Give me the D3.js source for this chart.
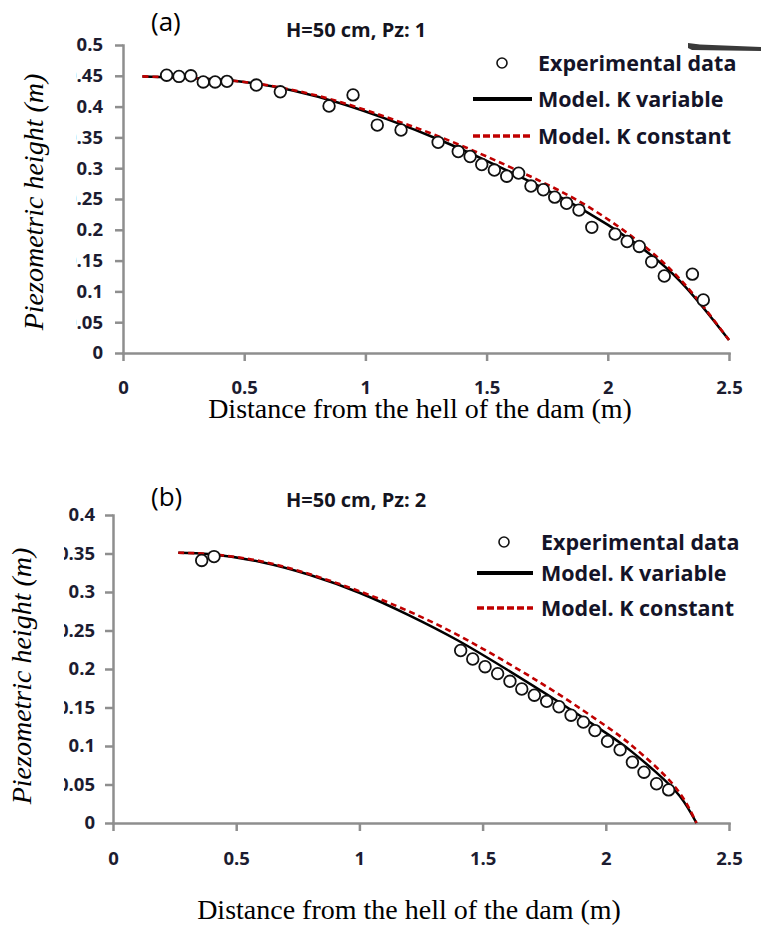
<!DOCTYPE html>
<html>
<head>
<meta charset="utf-8">
<script src="https://cdn.jsdelivr.net/npm/d3@7.9.0/dist/d3.min.js"></script>
<style>
  body { margin: 0; background: #fff; }
  svg { display: block; }
  .axis path, .axis line { stroke: #8e8e8e; stroke-width: 2.5; }
  .axis text { font-family: "Open Sans", sans-serif; font-weight: bold; font-size: 18.5px; fill: #1c1c30; }
  .panel-tag { font-family: "Open Sans", sans-serif; font-size: 26px; fill: #000; }
  .panel-title { font-family: "Open Sans", sans-serif; font-weight: bold; font-size: 20px; fill: #141420; }
  .legend text { font-family: "Open Sans", sans-serif; font-weight: bold; font-size: 21.5px; fill: #141428; }
  .ylabel { font-family: "Liberation Serif", "Times New Roman", serif; font-style: italic; font-size: 28px; fill: #000; }
  .xlabel { font-family: "Liberation Serif", "Times New Roman", serif; font-size: 28px; fill: #000; }
</style>
</head>
<body>
<script>
// shared x axis
const xTicks = [0, 0.5, 1, 1.5, 2, 2.5];
const xTickLabels = ['0', '0.5', '1', '1.5', '2', '2.5'];

// panel (a)
const yTicksA = [0, 0.05, 0.1, 0.15, 0.2, 0.25, 0.3, 0.35, 0.4, 0.45, 0.5];
const yTickLabelsA = ['0', '0.05', '0.1', '0.15', '0.2', '0.25', '0.3', '0.35', '0.4', '0.45', '0.5'];
const expA = [
  [0.18, 0.451], [0.231, 0.449], [0.28, 0.450], [0.331, 0.440], [0.38, 0.440],
  [0.429, 0.441], [0.55, 0.435], [0.649, 0.424], [0.85, 0.401], [0.949, 0.419],
  [1.049, 0.370], [1.147, 0.362], [1.30, 0.342], [1.383, 0.327], [1.432, 0.319],
  [1.48, 0.306], [1.532, 0.297], [1.583, 0.287], [1.632, 0.292], [1.683, 0.271],
  [1.734, 0.265], [1.781, 0.253], [1.83, 0.243], [1.881, 0.232], [1.934, 0.204],
  [2.03, 0.193], [2.08, 0.181], [2.13, 0.173], [2.181, 0.148], [2.233, 0.125],
  [2.349, 0.128], [2.394, 0.086]
];
const kVarA = [
  [0.08, 0.449], [0.3, 0.446], [0.5, 0.440], [0.7, 0.426], [0.9, 0.405],
  [1.1, 0.378], [1.3, 0.347], [1.5, 0.312], [1.7, 0.274], [1.9, 0.232],
  [2.1, 0.182], [2.3, 0.116], [2.5, 0.021]
];
const kConstA = [
  [0.08, 0.449], [0.3, 0.446], [0.5, 0.440], [0.7, 0.427], [0.9, 0.407],
  [1.1, 0.381], [1.3, 0.352], [1.5, 0.319], [1.7, 0.283], [1.9, 0.242],
  [2.1, 0.189], [2.3, 0.119], [2.5, 0.021]
];

// panel (b)
const yTicksB = [0, 0.05, 0.1, 0.15, 0.2, 0.25, 0.3, 0.35, 0.4];
const yTickLabelsB = ['0', '0.05', '0.1', '0.15', '0.2', '0.25', '0.3', '0.35', '0.4'];
const expB = [
  [0.36, 0.341], [0.41, 0.346],
  [1.411, 0.224], [1.46, 0.213], [1.51, 0.203], [1.561, 0.194], [1.611, 0.184],
  [1.659, 0.174], [1.71, 0.166], [1.76, 0.158], [1.81, 0.151], [1.859, 0.140],
  [1.909, 0.131], [1.956, 0.120], [2.007, 0.106], [2.058, 0.095], [2.108, 0.079],
  [2.155, 0.066], [2.206, 0.051], [2.255, 0.043]
];
const kVarB = [
  [0.265, 0.351], [0.4, 0.349], [0.6, 0.339], [0.8, 0.322], [1.0, 0.299],
  [1.2, 0.270], [1.4, 0.237], [1.6, 0.199], [1.8, 0.159], [2.0, 0.117],
  [2.1, 0.094], [2.2, 0.067], [2.3, 0.035], [2.368, 0.0]
];
const kConstB = [
  [0.265, 0.351], [0.4, 0.349], [0.6, 0.340], [0.8, 0.323], [1.0, 0.301],
  [1.2, 0.275], [1.4, 0.244], [1.6, 0.208], [1.8, 0.169], [2.0, 0.126],
  [2.1, 0.102], [2.2, 0.074], [2.3, 0.039], [2.368, 0.0]
];

const legendNames = ['Experimental data', 'Model. K variable', 'Model. K constant'];

const svg = d3.select('body').append('svg')
  .attr('width', 761)
  .attr('height', 925);

function drawPanel(o) {
  const x = d3.scaleLinear().domain([0, 2.5]).range([o.left, o.right]);
  const y = d3.scaleLinear().domain([0, o.yMax]).range([o.bottom, o.top]);
  const g = svg.append('g');

  // y axis, labels run off the left edge like in the source figure
  const yAxis = g.append('g')
    .attr('class', 'axis')
    .attr('transform', `translate(${o.left},0)`)
    .call(d3.axisLeft(y)
      .tickValues(o.yTicks)
      .tickFormat((d, i) => o.yLabels[i])
      .tickSize(8).tickSizeOuter(0).tickPadding(o.yPad));

  let topLabel = yAxis.selectAll('.tick text').filter((d) => d === o.yMax).node();
  let bb = topLabel.getBBox();
  let clipX = bb.x - o.clipExtra;
  svg.append('clipPath').attr('id', o.id + '-clip')
    .append('rect').attr('x', clipX).attr('y', -100).attr('width', 2000).attr('height', 2000);
  yAxis.attr('clip-path', `url(#${o.id}-clip)`);

  g.append('g')
    .attr('class', 'axis')
    .attr('transform', `translate(0,${o.bottom})`)
    .call(d3.axisBottom(x)
      .tickValues(xTicks)
      .tickFormat((d, i) => xTickLabels[i])
      .tickSize(8).tickSizeOuter(0).tickPadding(o.xPad));

  g.selectAll('.domain').attr('stroke-linecap', 'square');

  // model curves
  let line = d3.line()
    .x((d) => x(d[0]))
    .y((d) => y(d[1]))
    .curve(d3.curveNatural);

  g.append('path').datum(o.kVar)
    .attr('d', line).attr('fill', 'none')
    .attr('stroke', '#000').attr('stroke-width', 2.5);
  g.append('path').datum(o.kConst)
    .attr('d', line).attr('fill', 'none')
    .attr('stroke', '#c00000').attr('stroke-width', 2.6)
    .attr('stroke-dasharray', '6,4');

  g.selectAll('circle.exp').data(o.exp).join('circle')
    .attr('class', 'exp')
    .attr('cx', (d) => x(d[0]))
    .attr('cy', (d) => y(d[1]))
    .attr('r', 5.8)
    .attr('fill', '#fff')
    .attr('stroke', '#111')
    .attr('stroke-width', 1.8);

  // text
  g.append('text').attr('class', 'panel-tag')
    .attr('x', 151).attr('y', o.tagY).text(o.tag);
  g.append('text').attr('class', 'panel-title')
    .attr('x', 286).attr('y', o.titleY).text(o.title);

  g.append('text').attr('class', 'ylabel')
    .attr('transform', `translate(${o.ylabX},${o.ylabY}) rotate(-90)`)
    .attr('text-anchor', 'middle')
    .text('Piezometric height (m)');
  g.append('text').attr('class', 'xlabel')
    .attr('x', o.xlabX).attr('y', o.xlabY)
    .attr('text-anchor', 'middle')
    .text('Distance from the hell of the dam (m)');

  // legend
  let lg = g.append('g').attr('class', 'legend');
  lg.append('circle')
    .attr('cx', o.leg.cx).attr('cy', o.leg.rows[0])
    .attr('r', 5).attr('fill', '#fff')
    .attr('stroke', '#111').attr('stroke-width', 1.6);
  lg.append('line')
    .attr('x1', o.leg.x1).attr('x2', o.leg.x2)
    .attr('y1', o.leg.rows[1]).attr('y2', o.leg.rows[1])
    .attr('stroke', '#000').attr('stroke-width', 4);
  lg.append('line')
    .attr('x1', o.leg.x1).attr('x2', o.leg.x2)
    .attr('y1', o.leg.rows[2]).attr('y2', o.leg.rows[2])
    .attr('stroke', '#c00000').attr('stroke-width', 3.5)
    .attr('stroke-dasharray', '7,3');
  legendNames.forEach((name, i) => {
    lg.append('text')
      .attr('x', o.leg.tx)
      .attr('y', o.leg.rows[i] + 7.5)
      .text(name);
  });
}

drawPanel({
  id: 'a', left: 123, right: 729, top: 45, bottom: 353, yMax: 0.5,
  yTicks: yTicksA, yLabels: yTickLabelsA, yPad: 12, xPad: 20, clipExtra: 0.5,
  exp: expA, kVar: kVarA, kConst: kConstA,
  tag: '(a)', tagY: 31, title: 'H=50 cm, Pz: 1', titleY: 37,
  ylabX: 43, ylabY: 202, xlabX: 420, xlabY: 418,
  leg: { cx: 502, x1: 473, x2: 532, tx: 538, rows: [63, 99, 136] }
});

drawPanel({
  id: 'b', left: 113, right: 729, top: 515, bottom: 823, yMax: 0.4,
  yTicks: yTicksB, yLabels: yTickLabelsB, yPad: 10, xPad: 21, clipExtra: 4.5,
  exp: expB, kVar: kVarB, kConst: kConstB,
  tag: '(b)', tagY: 506, title: 'H=50 cm, Pz: 2', titleY: 507,
  ylabX: 31, ylabY: 676, xlabX: 409, xlabY: 919,
  leg: { cx: 504, x1: 477, x2: 533, tx: 541, rows: [542, 573, 608] }
});

// stray dark mark in the top right corner of the source image
svg.append('path')
  .attr('d', 'M688,43 L700,44.5 L761,47 L761,51 L692,50 L688,48 Z')
  .attr('fill', '#3a3a3a');
</script>
</body>
</html>
